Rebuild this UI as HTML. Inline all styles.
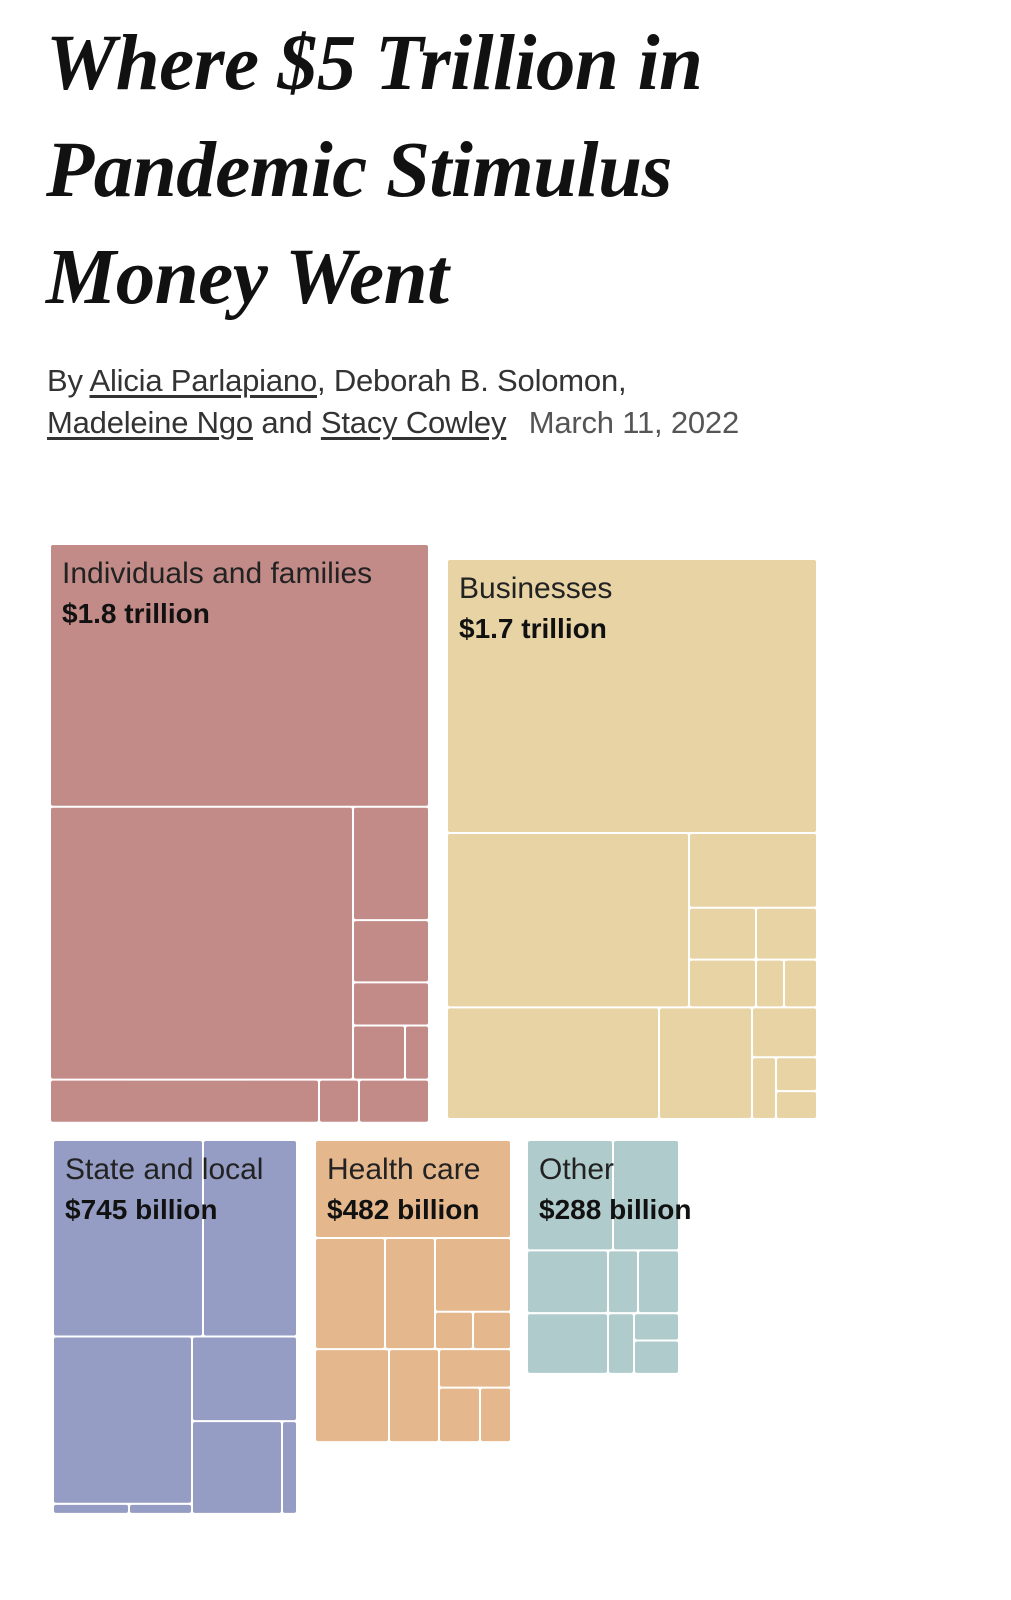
<!DOCTYPE html>
<html><head><meta charset="utf-8">
<style>
html,body{margin:0;padding:0;background:#fff;}
body{width:1011px;height:1600px;position:relative;overflow:hidden;font-family:"Liberation Sans",sans-serif;}
#title{position:absolute;left:46px;top:10px;margin:0;font-family:"Liberation Serif",serif;font-style:italic;font-weight:bold;font-size:79px;line-height:107px;color:#111;letter-spacing:-0.5px;}
#byline{position:absolute;left:47px;top:360px;font-size:31px;line-height:42px;color:#333;letter-spacing:-0.2px;}
#byline a{color:#333;text-decoration:underline;text-underline-offset:4px;}
#byline .date{color:#555;margin-left:14px;}
svg{position:absolute;left:0;top:0;}
.lbl{font-family:"Liberation Sans",sans-serif;font-size:30px;fill:#222;}
.val{font-family:"Liberation Sans",sans-serif;font-size:28px;font-weight:bold;fill:#111;}
</style></head><body>
<h1 id="title">Where $5 Trillion in<br>Pandemic Stimulus<br>Money Went</h1>
<div id="byline">By <a>Alicia Parlapiano</a>, Deborah B. Solomon,<br><a>Madeleine Ngo</a> and <a>Stacy Cowley</a> <span class="date">March 11, 2022</span></div>
<svg id="chart" width="1011" height="1600"></svg>
<script>
// Data
const categories = ["Individuals and families","Businesses","State and local","Health care","Other"];
const totals = [1.8, 1.7, 0.745, 0.482, 0.288]; // trillions
const valueLabels = ["$1.8 trillion","$1.7 trillion","$745 billion","$482 billion","$288 billion"];
const colors = ["#c28b88","#e7d3a4","#959dc4","#e5b78d","#b0cbcb"];

// Layout (not data)
const SCALE = 120800; // px^2 per trillion
const groupX = [51,448,54,316,528];
const groupTop = [545,560,1141,1141,1141];
const groupW = [377,368,242,194,150];
const refBox = [[51,545,428,1120],[448,560,816,1120],[54,1141,296,1510],[316,1141,510,1438],[528,1141,678,1370]];
const templates = [
 [[51,545,428,805],[51,807,352,1077],[354,807,428,918],[354,920,428,980],[354,982,428,1023],[354,1025,404,1077],[406,1025,428,1077],[51,1079,318,1120],[320,1079,358,1120],[360,1079,428,1120]],
 [[448,560,816,833],[448,835,688,1008],[690,835,816,908],[690,910,755,960],[757,910,816,960],[690,962,755,1008],[757,962,783,1008],[785,962,816,1008],[448,1010,658,1120],[660,1010,751,1120],[753,1010,816,1058],[753,1060,775,1120],[777,1060,816,1092],[777,1094,816,1120]],
 [[54,1141,202,1334],[204,1141,296,1334],[54,1336,191,1500],[193,1336,296,1418],[193,1420,281,1510],[283,1420,296,1510],[54,1502,128,1510],[130,1502,191,1510]],
 [[316,1141,510,1236],[316,1238,384,1346],[386,1238,434,1346],[436,1238,510,1309],[436,1311,472,1346],[474,1311,510,1346],[316,1348,388,1438],[390,1348,438,1438],[440,1348,510,1384],[440,1386,479,1438],[481,1386,510,1438]],
 [[528,1141,612,1248],[614,1141,678,1248],[528,1250,607,1310],[609,1250,637,1310],[639,1250,678,1310],[528,1312,607,1370],[609,1312,633,1370],[635,1312,678,1337],[635,1339,678,1370]]
];
const svg = document.getElementById('chart');
const NS = 'http://www.w3.org/2000/svg';
function groupBox(i){
  const w = groupW[i];
  const h = totals[i]*SCALE/w;
  return {x:groupX[i], y:groupTop[i], w:w, h:h};
}
categories.forEach((cat,i)=>{
  const b = groupBox(i);
  const r = refBox[i];
  const rw = r[2]-r[0], rh = r[3]-r[1];
  const g = document.createElementNS(NS,'g');
  
  
  templates[i].forEach((t,j)=>{
    const rect = document.createElementNS(NS,'rect');
    const x = b.x + (t[0]-r[0])/rw*b.w;
    const y = b.y + (t[1]-r[1])/rh*b.h;
    const w = (t[2]-t[0])/rw*b.w;
    const h = (t[3]-t[1])/rh*b.h;
    rect.setAttribute('x',x);rect.setAttribute('y',y);
    rect.setAttribute('width',Math.max(w,0.5));rect.setAttribute('height',Math.max(h,0.5));
    rect.setAttribute('rx',2);
    rect.setAttribute('fill',colors[i]);
    
    
    g.appendChild(rect);
  });
  const t1 = document.createElementNS(NS,'text');
  t1.setAttribute('x', b.x+11); t1.setAttribute('y', b.y+38);
  t1.setAttribute('class','lbl'); t1.textContent = cat;
  
  
  g.appendChild(t1);
  const t2 = document.createElementNS(NS,'text');
  t2.setAttribute('x', b.x+11); t2.setAttribute('y', b.y+78);
  t2.setAttribute('class','val'); t2.textContent = valueLabels[i];
  
  
  g.appendChild(t2);
  svg.appendChild(g);
});
</script>
</body></html>
